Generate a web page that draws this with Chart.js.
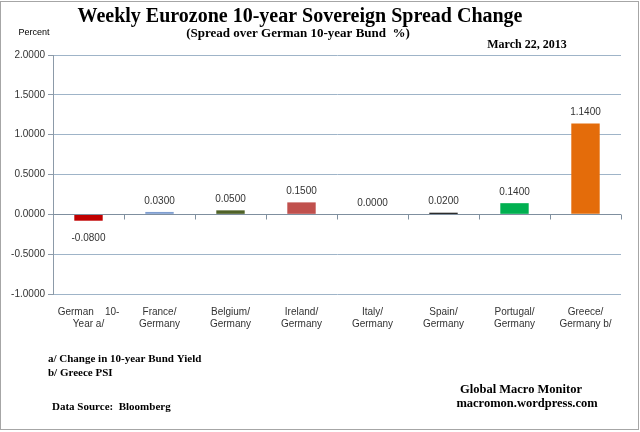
<!DOCTYPE html>
<html>
<head>
<meta charset="utf-8">
<script src="https://cdn.jsdelivr.net/npm/chart.js@4.4.1/dist/chart.umd.min.js"></script>
<style>
  html, body { margin: 0; padding: 0; background: #fff; }
  #wrap { width: 640px; height: 432px; }
</style>
</head>
<body>
<div id="wrap"><canvas id="c" width="640" height="432"></canvas></div>
<script>
// values
const paises = [
    ["German    10-", "Year a/"],
    ["France/", "Germany"],
    ["Belgium/", "Germany"],
    ["Ireland/", "Germany"],
    ["Italy/", "Germany"],
    ["Spain/", "Germany"],
    ["Portugal/", "Germany"],
    ["Greece/", "Germany b/"]
];
const variazioni = [-0.08, 0.03, 0.05, 0.15, 0.0, 0.02, 0.14, 1.14];
const colori = ["#C00000", "#7F9ED0", "#4F6228", "#C0504D", "#FFFFFF", "#000000", "#00B050", "#E46C0A"];
const tickY = [2, 1.5, 1, 0.5, 0, -0.5, -1];

const serif = "'Liberation Serif', 'Times New Roman', serif";
const sans = "'Liberation Sans', Arial, sans-serif";

const testi = {
    id: "testi",
    afterDraw(chart) {
        const c = chart.ctx;
        const x = chart.scales.x, y = chart.scales.y;
        const area = chart.chartArea;
        c.save();
        // frame
        c.strokeStyle = "#a6a6a6";
        c.lineWidth = 1;
        c.strokeRect(0.5, 1.5, 638, 428);

        // zero line with category tick marks
        const y0 = Math.round(y.getPixelForValue(0)) + 0.5;
        c.strokeStyle = "#7f8f9f";
        c.beginPath();
        c.moveTo(area.left, y0);
        c.lineTo(area.right, y0);
        const w = (area.right - area.left) / paises.length;
        for (let i = 1; i <= paises.length; i++) {
            const px = Math.round(area.left + i * w) + 0.5;
            c.moveTo(px, y0);
            c.lineTo(px, y0 + 5);
        }
        c.stroke();

        // value labels
        c.fillStyle = "#333";
        c.font = "10px " + sans;
        c.textAlign = "center";
        variazioni.forEach((v, i) => {
            const px = x.getPixelForValue(i);
            if (v < 0) {
                c.textBaseline = "top";
                c.fillText(v.toFixed(4), px, y.getPixelForValue(v) + 13);
            } else {
                c.textBaseline = "bottom";
                c.fillText(v.toFixed(4), px, y.getPixelForValue(v) - 6);
            }
        });

        // titles
        c.fillStyle = "#000";
        c.textBaseline = "alphabetic";
        c.font = "bold 20px " + serif;
        c.fillText("Weekly Eurozone 10-year Sovereign Spread Change", 300, 22);
        c.font = "bold 13px " + serif;
        c.fillText("(Spread over German 10-year Bund  %)", 298, 37);
        c.font = "bold 12px " + serif;
        c.fillText("March 22, 2013", 527, 48);
        c.font = "9px " + sans;
        c.fillText("Percent", 34, 35);

        // notes
        c.textAlign = "left";
        c.font = "bold 11px " + serif;
        c.fillText("a/ Change in 10-year Bund Yield", 48, 362);
        c.fillText("b/ Greece PSI", 48, 376);
        c.fillText("Data Source:  Bloomberg", 52, 410);
        c.textAlign = "center";
        c.font = "bold 12.5px " + serif;
        c.fillText("Global Macro Monitor", 521, 393);
        c.fillText("macromon.wordpress.com", 527, 407);
        c.restore();
    }
};

new Chart(document.getElementById("c").getContext("2d"), {
    type: "bar",
    data: {
        labels: paises,
        datasets: [{
            data: variazioni,
            backgroundColor: colori,
            barPercentage: 0.8,
            categoryPercentage: 0.5
        }]
    },
    options: {
        responsive: false,
        animation: false,
        layout: { padding: { top: 55, right: 19, bottom: 96, left: 0 } },
        plugins: {
            legend: { display: false },
            tooltip: { enabled: false }
        },
        scales: {
            x: {
                grid: { display: false },
                border: { display: false },
                ticks: {
                    color: "#333",
                    font: { family: sans, size: 10 },
                    maxRotation: 0,
                    autoSkip: false,
                    padding: 4
                },
                afterFit(s) { s.height = 42; }
            },
            y: {
                min: -1,
                max: 2,
                afterBuildTicks(s) { s.ticks = tickY.map(v => ({ value: v })); },
                grid: {
                    color: "#9fb4c8",
                    tickLength: 5,
                    tickColor: "#8c9aa8"
                },
                border: { color: "#8c9aa8" },
                ticks: {
                    color: "#333",
                    font: { family: sans, size: 10 },
                    padding: 3,
                    callback: v => v.toFixed(4)
                },
                afterFit(s) { s.width = 53; }
            }
        }
    },
    plugins: [testi]
});
</script>
</body>
</html>
